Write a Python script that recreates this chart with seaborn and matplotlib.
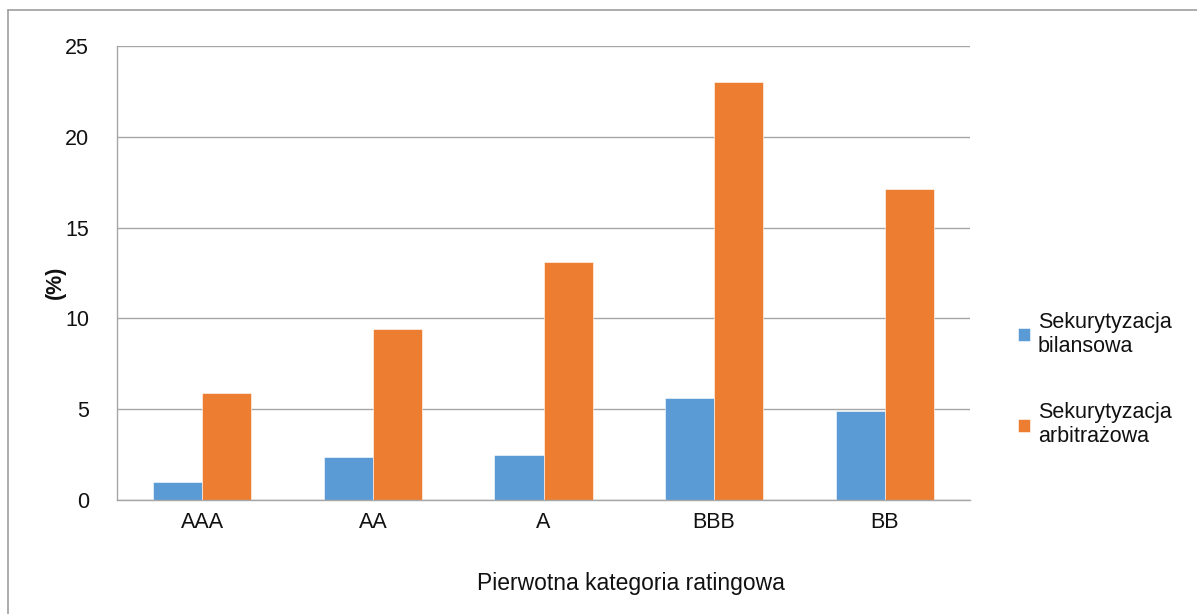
import pandas as pd
import matplotlib.pyplot as plt
import seaborn as sns
from matplotlib.lines import Line2D

ratings = ['AAA', 'AA', 'A', 'BBB', 'BB']
bilansowa = [1.0, 2.35, 2.5, 5.6, 4.9]
arbitrazowa = [5.9, 9.4, 13.1, 23.0, 17.1]
series_names = ['Sekurytyzacja\nbilansowa', 'Sekurytyzacja\narbitrażowa']
colors = ['#5B9BD5', '#ED7D31']

df = pd.DataFrame({
    'Rating': ratings * 2,
    'Value': bilansowa + arbitrazowa,
    'Series': [series_names[0]] * len(ratings) + [series_names[1]] * len(ratings),
})

sns.set_style('white')
plt.rcParams['font.family'] = ['Liberation Sans', 'DejaVu Sans']
fs = 15.5

fig = plt.figure(figsize=(11.97, 6.14), dpi=100)
ax = fig.add_axes([117 / 1197, 114 / 614, 853 / 1197, 454 / 614])

sns.barplot(data=df, x='Rating', y='Value', hue='Series', palette=colors,
            width=0.575, gap=0, ax=ax, legend=True, saturation=1,
            edgecolor='white', linewidth=0.4)

grid_c = '#A6A6A6'
ax.set_ylim(0, 25)
ax.set_xlim(-0.5, 4.5)
ax.set_yticks([0, 5, 10, 15, 20, 25])
ax.yaxis.grid(True, color=grid_c, linewidth=1)
ax.set_axisbelow(True)
for s in ['top', 'right']:
    ax.spines[s].set_visible(False)
for s in ['left', 'bottom']:
    ax.spines[s].set_color(grid_c)
    ax.spines[s].set_linewidth(1)

ax.set_xticks(range(len(ratings)))
ax.set_xticklabels(ratings)
ax.set_xticks([i - 0.5 for i in range(len(ratings) + 1)], minor=True)
ax.tick_params(axis='x', which='major', length=0, pad=9, labelsize=fs, labelcolor='#111111')
ax.tick_params(axis='x', which='minor', length=5, color=grid_c, width=1, direction='out')
ax.tick_params(axis='y', length=5, color=grid_c, width=1, direction='out', pad=15,
               labelsize=fs, labelcolor='#111111')

ax.set_xlabel('Pierwotna kategoria ratingowa', fontsize=16.5, color='#111111')
ax.xaxis.set_label_coords(0.603, -0.158)
ax.set_ylabel('(%)', fontsize=fs, fontweight='bold', color='#111111')
ax.yaxis.set_label_coords(-0.06, 0.48)

ax.legend(loc='center left', bbox_to_anchor=(1.034, 0.265), frameon=False,
          handlelength=0.55, handleheight=0.55, handletextpad=0.35,
          labelspacing=2.1, fontsize=fs, labelcolor='#111111')

# outer chart border
fig.add_artist(Line2D([8 / 1197, 8 / 1197], [0, 1 - 10 / 614], color='#9E9E9E', lw=1.2))
fig.add_artist(Line2D([8 / 1197, 1], [1 - 10 / 614, 1 - 10 / 614], color='#9E9E9E', lw=1.2))

plt.savefig('out.png', dpi=100)
